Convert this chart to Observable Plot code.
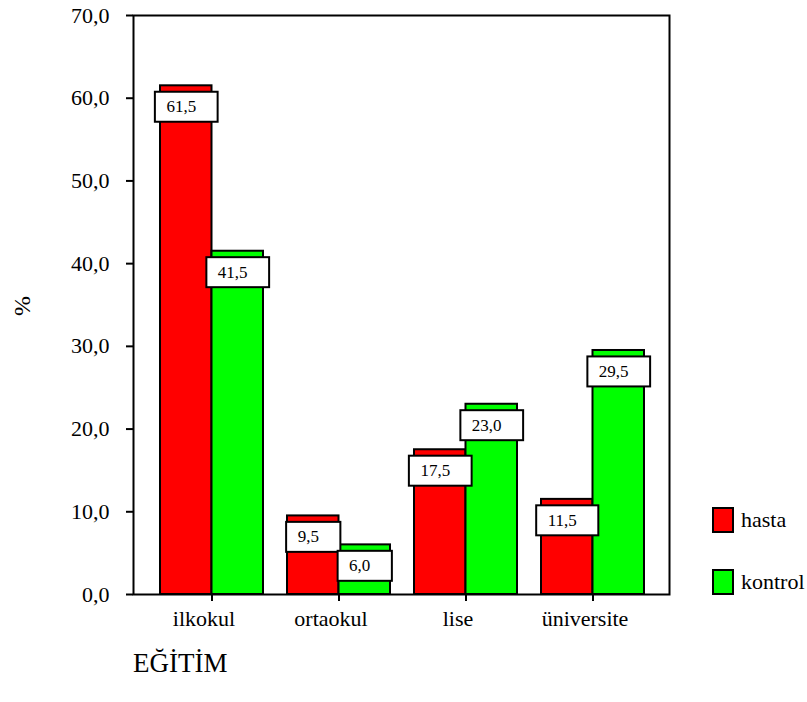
<!DOCTYPE html>
<html>
<head>
<meta charset="utf-8">
<script src="https://cdn.jsdelivr.net/npm/d3@7"></script>
<script src="https://cdn.jsdelivr.net/npm/@observablehq/plot@0.6"></script>
<style>
  html, body { margin: 0; padding: 0; background: #fff; }
  #wrap { position: relative; width: 807px; height: 702px; font-family: "Liberation Serif", "Times New Roman", serif; color: #000; }
  #chart svg { display: block; }
  #xtitle { position: absolute; left: 133px; top: 650px; font-size: 27px; line-height: 1; }
  .leg { position: absolute; left: 712px; height: 26px; display: flex; align-items: center; gap: 7px; font-size: 22px; line-height: 26px; }
  .sw { width: 22px; height: 26px; box-sizing: border-box; border: 2px solid #000; }
</style>
</head>
<body>
<div id="wrap">
  <div id="chart"></div>
  <div id="xtitle"></div>
</div>
<script>
// ---- data ----
const categories = ["ilkokul", "ortaokul", "lise", "üniversite"];
const seriesNames = ["hasta", "kontrol"];
const hastaValues = [61.5, 9.5, 17.5, 11.5];
const kontrolValues = [41.5, 6.0, 23.0, 29.5];
const yTicks = [0, 10, 20, 30, 40, 50, 60, 70];
const seriesColors = ["#ff0000", "#00ff00"];
const xTitle = "EĞİTİM";
const yTitle = "%";

const fmt = v => d3.format(".1f")(v).replace(".", ",");

const hastaRows = categories.map((c, i) => ({cat: c, series: seriesNames[0], value: hastaValues[i]}));
const kontrolRows = categories.map((c, i) => ({cat: c, series: seriesNames[1], value: kontrolValues[i]}));

// x band geometry
const xRange = [160, 644];
const padInner = 0.189;
const bw = d3.scaleBand().domain(categories).range(xRange).paddingInner(padInner).paddingOuter(0).bandwidth();
const half = bw / 2;

const font = '"Liberation Serif", "Times New Roman", serif';

const plot = Plot.plot({
  width: 807,
  height: 640,
  marginLeft: 133,
  marginRight: 138,
  marginTop: 15,
  marginBottom: 46,
  style: {fontFamily: font, fontSize: "22px", background: "#fff", color: "#000"},
  x: {type: "band", domain: categories, range: xRange, paddingInner: padInner, paddingOuter: 0, align: 0.5},
  y: {domain: [0, 70]},
  marks: [
    Plot.barY(hastaRows, {x: "cat", y: "value", fill: seriesColors[0], stroke: "#000", strokeWidth: 2, insetLeft: 0, insetRight: half}),
    Plot.barY(kontrolRows, {x: "cat", y: "value", fill: seriesColors[1], stroke: "#000", strokeWidth: 2, insetLeft: half, insetRight: 0}),
    Plot.frame({stroke: "#000", strokeWidth: 2}),
    Plot.axisY({ticks: yTicks, tickSize: 7, tickPadding: 17, tickFormat: fmt, fontSize: 22, strokeWidth: 2, label: null}),
    Plot.axisX({tickSize: 7, fill: "none", strokeWidth: 2, label: null}),
    Plot.axisX({tickSize: 0, tickPadding: 16, dx: -8, fontSize: 22, label: null}),
    Plot.text(hastaRows, {x: "cat", y: "value", text: d => fmt(d.value), dx: -half / 2 - 5, dy: 21, lineAnchor: "middle", fontSize: 17, fill: "#000"}),
    Plot.text(kontrolRows, {x: "cat", y: "value", text: d => fmt(d.value), dx: half / 2 - 5, dy: 21, lineAnchor: "middle", fontSize: 17, fill: "#000"})
  ]
});

document.getElementById("chart").append(plot);

// white label boxes behind the value labels (the last two mark groups)
const svgNS = "http://www.w3.org/2000/svg";
const markGroups = Array.from(plot.children).filter(n => n.tagName.toLowerCase() === "g");
markGroups.slice(-2).forEach(g => {
  g.querySelectorAll("text").forEach(t => {
    const b = t.getBBox();
    const w = b.width + 33;
    const cx = b.x + b.width / 2 + 5;
    const cy = b.y + b.height / 2;
    const r = document.createElementNS(svgNS, "rect");
    r.setAttribute("x", cx - w / 2);
    r.setAttribute("y", cy - 15);
    r.setAttribute("width", w);
    r.setAttribute("height", 30);
    r.setAttribute("fill", "#fff");
    r.setAttribute("stroke", "#000");
    r.setAttribute("stroke-width", 2);
    if (t.getAttribute("transform")) r.setAttribute("transform", t.getAttribute("transform"));
    t.parentNode.insertBefore(r, t);
  });
});

// y title
const yt = document.createElementNS(svgNS, "text");
yt.textContent = yTitle;
yt.setAttribute("transform", "translate(22,306) rotate(-90)");
yt.setAttribute("text-anchor", "middle");
yt.setAttribute("dy", "0.32em");
yt.setAttribute("font-size", "24");
yt.setAttribute("fill", "#000");
plot.append(yt);

document.getElementById("xtitle").textContent = xTitle;

// legend
const wrap = document.getElementById("wrap");
seriesNames.forEach((s, i) => {
  const item = document.createElement("div");
  item.className = "leg";
  item.style.top = (507 + i * 62) + "px";
  const sw = document.createElement("div");
  sw.className = "sw";
  sw.style.background = seriesColors[i];
  const lb = document.createElement("span");
  lb.textContent = s;
  item.append(sw, lb);
  wrap.append(item);
});
</script>
</body>
</html>
